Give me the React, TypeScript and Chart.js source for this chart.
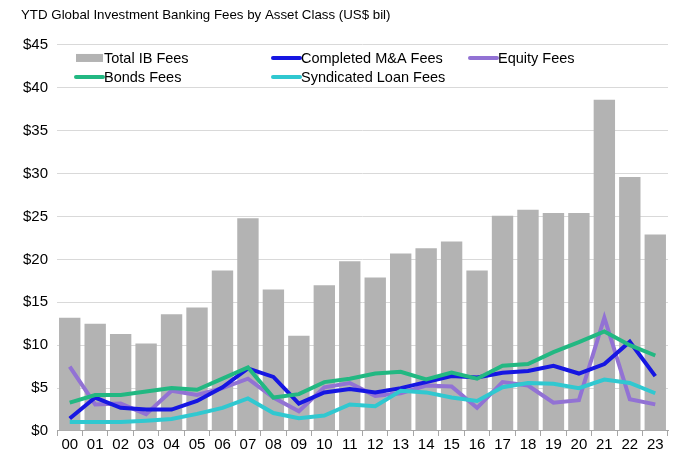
import React, { useEffect, useRef } from "react";
import { Chart, registerables } from "chart.js";

Chart.register(...registerables);

const years = ["00","01","02","03","04","05","06","07","08","09","10","11","12","13","14","15","16","17","18","19","20","21","22","23"];
const totalIB = [13.2,12.5,11.3,10.2,13.6,14.4,18.7,24.8,16.5,11.1,17.0,19.8,17.9,20.7,21.3,22.1,18.7,25.1,25.8,25.4,25.4,38.6,29.6,22.9];
const mnaFees = [1.45,3.9,2.7,2.5,2.5,3.5,5.1,7.3,6.3,3.2,4.5,4.9,4.5,5.0,5.7,6.4,6.25,6.8,7.0,7.6,6.7,7.8,10.4,6.4];
const equityFees = [7.5,3.1,3.2,1.95,4.7,4.2,5.0,6.1,3.9,2.3,5.1,5.6,4.1,4.4,5.3,5.2,2.7,5.7,5.3,3.3,3.6,13.2,3.7,3.1];
const bondsFees = [3.3,4.2,4.2,4.6,5.0,4.8,6.1,7.4,3.9,4.3,5.7,6.1,6.7,6.9,6.0,6.8,6.1,7.6,7.8,9.2,10.35,11.6,10.0,8.8];
const loanFees = [1.05,1.05,1.05,1.2,1.4,2.0,2.7,3.8,2.1,1.5,1.8,3.1,2.9,4.7,4.5,3.9,3.5,5.1,5.6,5.5,5.0,6.0,5.6,4.4];
const yTicks = [0,5,10,15,20,25,30,35,40,45];

const FONT = "'Liberation Sans', Arial, sans-serif";

const legendPlugin = {
  id: "customLegend",
  afterDraw(chart: any) {
    const ctx = chart.ctx;
    const area = chart.chartArea;
    const ds = chart.data.datasets;
    const slots = [
      { i: 0, col: 0, row: 0 },
      { i: 1, col: 1, row: 0 },
      { i: 2, col: 2, row: 0 },
      { i: 3, col: 0, row: 1 },
      { i: 4, col: 1, row: 1 },
    ];
    ctx.save();
    ctx.font = `14.5px ${FONT}`;
    ctx.textBaseline = "middle";
    ctx.fillStyle = "#000";
    for (const s of slots) {
      const d = ds[s.i];
      const x = area.left + 18 + s.col * 197;
      const y = area.top + 13 + s.row * 19;
      if (d.type === "bar") {
        ctx.fillStyle = d.backgroundColor;
        ctx.fillRect(x + 1, y - 4, 27, 8);
      } else {
        ctx.strokeStyle = d.borderColor;
        ctx.lineWidth = 4;
        ctx.lineCap = "round";
        ctx.beginPath();
        ctx.moveTo(x + 1, y);
        ctx.lineTo(x + 28, y);
        ctx.stroke();
      }
      ctx.fillStyle = "#000";
      ctx.fillText(d.label, x + 29, y + 1);
    }
    ctx.restore();
  },
};

export default function App() {
  const ref = useRef<HTMLCanvasElement>(null);
  useEffect(() => {
    const lineDs = (label: string, data: number[], color: string, order: number) => ({
      type: "line" as const,
      label,
      data,
      borderColor: color,
      backgroundColor: color,
      borderWidth: 4,
      pointRadius: 0,
      tension: 0,
      order,
    });
    const chart = new Chart(ref.current!, {
      type: "bar",
      data: {
        labels: years,
        datasets: [
          {
            type: "bar",
            label: "Total IB Fees",
            data: totalIB,
            backgroundColor: "#b3b3b3",
            barPercentage: 0.84,
            categoryPercentage: 1,
            order: 10,
          } as any,
          lineDs("Completed M&A Fees", mnaFees, "#1616e2", 3),
          lineDs("Equity Fees", equityFees, "#9272d4", 4),
          lineDs("Bonds Fees", bondsFees, "#22b882", 2),
          lineDs("Syndicated Loan Fees", loanFees, "#30c8d0", 1),
        ],
      },
      options: {
        animation: false,
        responsive: false,
        layout: { padding: { left: 21, right: 32, top: 0, bottom: 13 } },
        plugins: {
          legend: { display: false },
          tooltip: { enabled: false },
          title: {
            display: true,
            text: "YTD Global Investment Banking Fees by Asset Class (US$ bil)",
            align: "start",
            color: "#000",
            font: { family: FONT, size: 13.3, weight: "normal" },
            padding: { top: 7, bottom: 22 },
          },
        },
        scales: {
          x: {
            offset: true,
            grid: {
              offset: true,
              drawOnChartArea: false,
              drawTicks: true,
              tickLength: 5,
              color: "#a6a6a6",
            },
            border: { display: true, color: "#a6a6a6" },
            ticks: {
              color: "#000",
              font: { family: FONT, size: 15 },
              padding: 0,
              maxRotation: 0,
              autoSkip: false,
            },
          },
          y: {
            min: 0,
            max: 45,
            afterBuildTicks: (axis: any) => {
              axis.ticks = yTicks.map((v) => ({ value: v }));
            },
            afterFit: (axis: any) => {
              axis.width = 36;
            },
            grid: { color: "#d9d9d9", drawTicks: false, lineWidth: 1 },
            border: { display: false },
            ticks: {
              color: "#000",
              font: { family: FONT, size: 15 },
              padding: 9,
              callback: (v: any) => `$${v}`,
            },
          },
        },
      },
      plugins: [legendPlugin],
    });
    return () => chart.destroy();
  }, []);
  return (
    <div style={{ position: "fixed", left: 0, top: 0, width: 700, height: 467, background: "#fff" }}>
      <canvas ref={ref} width={700} height={467} />
    </div>
  );
}
